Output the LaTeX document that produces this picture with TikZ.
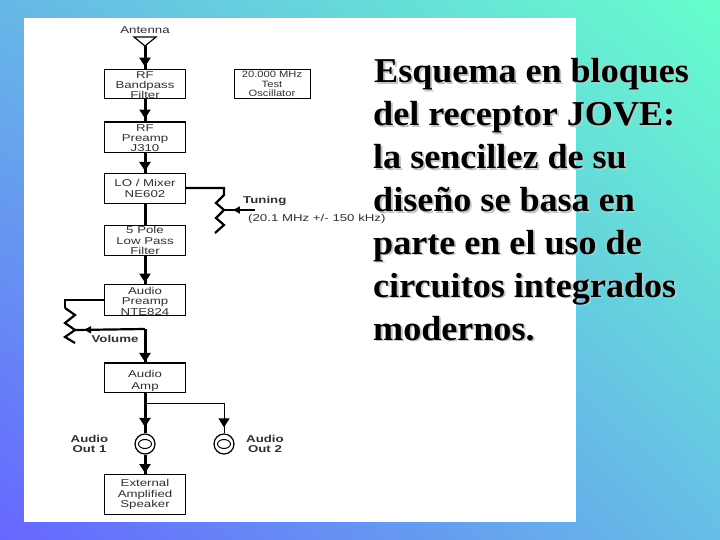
\documentclass[tikz,border=0pt]{standalone}
\usepackage{fontspec}
\usetikzlibrary{arrows.meta,decorations.markings,calc,shadings}
\setmainfont[FakeStretch=1.035]{Liberation Serif}
\newfontfamily\diagfont[FakeStretch=1.33]{Liberation Sans}
\newfontfamily\oscfont[FakeStretch=1.22]{Liberation Sans}
\definecolor{inkc}{HTML}{303030}
\definecolor{shadowc}{HTML}{C4C4C4}
\definecolor{bgTR}{HTML}{66FFCC}
\definecolor{bgBL}{HTML}{6666FF}
\definecolor{bgTL}{HTML}{66B8E6}
\definecolor{bgBR}{HTML}{66BFE6}
\tikzset{
  block/.style={draw=black,line width=1bp,fill=white,minimum width=81bp,inner sep=0pt,align=center,font=\diagfont\fontsize{10}{10.6}\selectfont,text=inkc,anchor=north},
  wire/.style={line width=3bp,draw=black},
  potwire/.style={line width=2.2bp,draw=black,line join=miter},
  thinwire/.style={line width=1bp,draw=black},
  tip/.style={postaction={decorate,decoration={markings,mark=at position #1 with {\arrow{Triangle[width=11bp,length=9bp]}}}}},
  smalltip/.style={postaction={decorate,decoration={markings,mark=at position #1 with {\arrow{Triangle[width=7bp,length=7bp]}}}}},
  lbl/.style={font=\diagfont\fontsize{10}{10.6}\selectfont,text=inkc,align=center,inner sep=0pt},
  boldlbl/.style={font=\diagfont\bfseries\fontsize{10}{10.8}\selectfont,text=inkc,align=center,inner sep=0pt},
  jack/.style={circle,draw=black,line width=1.2bp,fill=white,minimum size=20bp,inner sep=0pt},
  para/.style={anchor=north west,align=left,inner sep=0pt,font=\bfseries\fontsize{35}{43.1}\selectfont},
}
\begin{document}
\begin{tikzpicture}[x=1bp,y=-1bp]
\useasboundingbox (0,0) rectangle (720,540);
\shade[lower left=bgBL,upper right=bgTR,upper left=bgTL,lower right=bgBR] (0,0) rectangle (720,540);
\fill[white] (24,18) rectangle (576,522);

% blocks
\node[block,minimum height=29bp,font=\diagfont\fontsize{10}{10}\selectfont] (rf) at (145,69) {\rule{0pt}{9bp}RF\\Bandpass\\Filter};
\node[block,minimum height=30bp,font=\diagfont\fontsize{10}{10}\selectfont] (pre) at (145,122) {\rule{0pt}{9bp}RF\\Preamp\\J310};
\node[block,minimum height=30bp] (mix) at (145,173) {LO / Mixer\\NE602};
\node[block,minimum height=30bp] (lpf) at (145,225) {5 Pole\\Low Pass\\Filter};
\node[block,minimum height=30bp] (apre) at (145,284) {\rule{0pt}{9.5bp}Audio\\Preamp\\NTE824};
\node[block,minimum height=29bp,font=\diagfont\fontsize{10}{11.2}\selectfont] (amp) at (145,363) {\rule{0pt}{13bp}Audio\\Amp};
\node[block,minimum height=40bp] (spk) at (145,474) {External\\Amplified\\Speaker};
\node[block,minimum width=76bp,minimum height=29bp,font=\oscfont\fontsize{9.2}{9.8}\selectfont] (osc) at (272,69) {20.000 MHz\\Test\\Oscillator};
\draw[line width=1.8bp] (pre.north west) -- (pre.north east);
\draw[line width=1.8bp] (amp.north west) -- (amp.north east);

% antenna
\node[lbl] (antl) at (145,30) {Antenna};
\coordinate (antL) at (134,37);
\coordinate (antR) at (156,37);
\coordinate (antB) at (145,46);
\draw[line width=1.2bp] (antL) -- (antR) -- (antB) -- cycle;
\draw[wire,tip=0.9] (antB) -- (rf.north);

% main chain
\draw[wire,tip=0.85] (rf) -- (pre);
\draw[wire,tip=0.9] (pre) -- (mix);
\draw[wire] (mix) -- (lpf);
\draw[wire,tip=0.95] (lpf) -- (apre);

% tuning pot
\coordinate (t0) at (224,188);
\coordinate (t1) at (224,195);
\coordinate (t2) at (216,203);
\coordinate (t3) at (224,210);
\coordinate (t4) at (216,218);
\coordinate (t5) at (224,225);
\coordinate (t6) at (215,233);
\coordinate (tw) at (255,210);
\draw[potwire] (mix.east |- t0) -- (t0) -- (t1) -- (t2) -- (t3) -- (t4) -- (t5) -- (t6);
\draw[potwire,smalltip=0.71] (tw) -- (t3);
\node[boldlbl,anchor=west] (tunl) at (243,200.5) {Tuning};
\node[lbl,anchor=west] (tunf) at (248,218.5) {(20.1 MHz +/- 150 kHz)};

% volume pot
\coordinate (v0) at (65,300);
\coordinate (v1) at (65,308);
\coordinate (v2) at (75,315);
\coordinate (v3) at (65,323);
\coordinate (v4) at (75,330);
\coordinate (v5) at (65,337);
\coordinate (v6) at (75,343);
\coordinate (vc) at (145,329);
\draw[potwire,line width=1.6bp] (apre.west |- v0) -- (v0) -- (v1);
\draw[potwire] (v1) -- (v2) -- (v3) -- (v4) -- (v5) -- (v6);
\draw[potwire,smalltip=0.87] (vc) -- (v4);
\draw[wire,tip=0.97] (vc) -- (amp.north);
\node[boldlbl] (voll) at (115,338.5) {Volume};

% outputs
\node[jack] (j1) at (145,444) {};
\node[jack] (j2) at (224,444) {};
\draw[line width=1bp] (145,444) ellipse (6.5bp and 4.5bp);
\draw[line width=1bp] (224,444) ellipse (6.5bp and 4.5bp);
\coordinate (br) at (145,403);
\coordinate (brr) at (224,403);
\draw[wire,tip=0.84] (amp) -- (j1);
\draw[wire,tip=0.95] (j1) -- (spk);
\draw[thinwire] (br) -- (brr);
\draw[thinwire,tip=0.8] (brr) -- (j2);
\node[boldlbl] (o1) at (89.5,444) {Audio\\Out 1};
\node[boldlbl] (o2) at (265,444) {Audio\\Out 2};

% paragraph
\node[para,text=shadowc] (shad) at (374.8,59.8) {\hspace{1bp}Esquema en bloques\\del receptor JOVE:\\la sencillez de su\\diseño se basa en\\parte en el uso de\\circuitos integrados\\modernos.};
\node[para,text=black] (txt) at (373,58) {\hspace{1bp}Esquema en bloques\\del receptor JOVE:\\la sencillez de su\\diseño se basa en\\parte en el uso de\\circuitos integrados\\modernos.};
\end{tikzpicture}
\end{document}
